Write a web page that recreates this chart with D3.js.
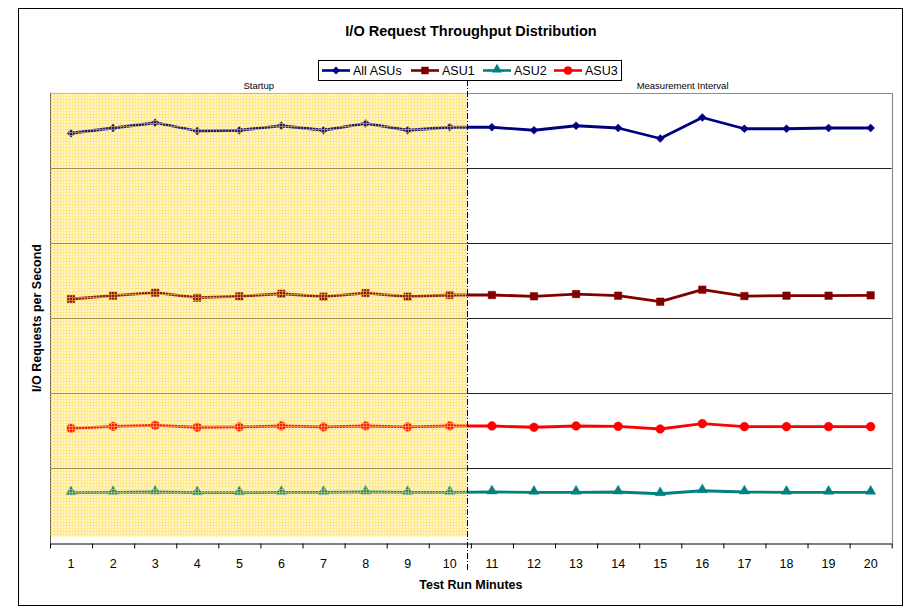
<!DOCTYPE html>
<html>
<head>
<meta charset="utf-8">
<script src="https://cdn.jsdelivr.net/npm/d3@7"></script>
<style>
  html, body { margin: 0; padding: 0; background: #fff; }
  svg { display: block; font-family: "Liberation Sans", Arial, sans-serif; }
</style>
</head>
<body>
<svg id="chart" width="905" height="608"></svg>
<script>
// Test run minutes (categories)
const minutes = [1,2,3,4,5,6,7,8,9,10,11,12,13,14,15,16,17,18,19,20];

// I/O requests per second, per series
const allAsus = [546,553,560,549,550,556,550,559,550,554,554,550,556,553,539,567,552,552,553,553];
const asu1    = [325.3,329.7,333.7,327.0,328.9,332.3,328.4,333.2,328.4,330.6,330.6,328.9,331.9,329.7,321.7,337.7,329.2,329.7,329.7,330.2];
const asu2    = [67.4,67.9,68.3,67.4,67.4,67.9,67.9,68.3,67.9,67.9,68.3,67.9,67.9,68.3,66.0,70.0,68.3,67.9,67.9,67.9];
const asu3    = [153.1,155.8,157.1,154.5,154.9,156.2,154.9,156.2,154.9,156.2,156.2,154.5,156.2,155.8,152.2,159.3,155.3,155.3,155.3,155.3];

const seriesNames = ["All ASUs", "ASU1", "ASU2", "ASU3"];
const yTicks = [100, 200, 300, 400, 500];
const phaseLabels = ["Startup", "Measurement Interval"];
const startupEnd = 10.42;   // end of the startup phase on the minute axis

const series = [
  { name: seriesNames[0], values: allAsus, color: "#000080", marker: "diamond" },
  { name: seriesNames[1], values: asu1,    color: "#800000", marker: "square" },
  { name: seriesNames[2], values: asu2,    color: "#008080", marker: "triangle" },
  { name: seriesNames[3], values: asu3,    color: "#FF0000", marker: "circle" }
];

const svg = d3.select("#chart");
const plot = { left: 50, right: 891.7, top: 92.7, bottom: 543.3 };

const x = d3.scaleLinear().domain([0.5, 20.5]).range([plot.left, plot.right]);
const y = d3.scaleLinear().domain([0, 600]).range([plot.bottom, plot.top]);

// outer frame
svg.append("rect").attr("x", 18.5).attr("y", 8.5).attr("width", 884).attr("height", 597)
  .attr("fill", "#fff").attr("stroke", "#000").attr("stroke-width", 1);

// fill pattern for the startup phase
const defs = svg.append("defs");
const pat = defs.append("pattern").attr("id", "startupGrid")
  .attr("patternUnits", "userSpaceOnUse").attr("width", 3).attr("height", 3);
pat.append("rect").attr("x", 0).attr("y", 0).attr("width", 3).attr("height", 1).attr("fill", "#FFDC50");
pat.append("rect").attr("x", 0).attr("y", 0).attr("width", 1).attr("height", 3).attr("fill", "#FFDC50");

const shadeX0 = x(0.5), shadeX1 = x(startupEnd);
const shadeY0 = y(600), shadeY1 = y(9);

// pale base of the startup phase
svg.append("rect").attr("x", shadeX0).attr("y", shadeY0)
  .attr("width", shadeX1 - shadeX0).attr("height", shadeY1 - shadeY0)
  .attr("fill", "#FFF8D6");

// horizontal gridlines
svg.append("g").selectAll("line").data(yTicks).join("line")
  .attr("x1", plot.left).attr("x2", plot.right)
  .attr("y1", d => Math.round(y(d)) + 0.5).attr("y2", d => Math.round(y(d)) + 0.5)
  .attr("stroke", "#222").attr("stroke-width", 1);

// plot border (top/right)
svg.append("path")
  .attr("d", `M${plot.left},${Math.round(plot.top)+0.5} H${Math.round(plot.right)+0.5} V${plot.bottom}`)
  .attr("fill", "none").attr("stroke", "#8c8c8c").attr("stroke-width", 1.2);
// left axis line
svg.append("line").attr("x1", Math.round(plot.left) + 0.5).attr("x2", Math.round(plot.left) + 0.5)
  .attr("y1", plot.top).attr("y2", plot.bottom).attr("stroke", "#555").attr("stroke-width", 1);

// series lines
const line = d3.line().x((d, i) => x(minutes[i])).y(d => y(d));
const markerPath = {
  diamond: d3.symbol().type(d3.symbolDiamond2 || d3.symbolDiamond).size(40)(),
  square: d3.symbol().type(d3.symbolSquare).size(56)(),
  triangle: d3.symbol().type(d3.symbolTriangle).size(44)(),
  circle: d3.symbol().type(d3.symbolCircle).size(60)()
};

const gSeries = svg.append("g");
series.forEach(s => {
  const g = gSeries.append("g");
  g.append("path").datum(s.values).attr("d", line)
    .attr("fill", "none").attr("stroke", s.color).attr("stroke-width", 2.8)
    .attr("stroke-linejoin", "round");
  g.selectAll("path.m").data(s.values).join("path").attr("class", "m")
    .attr("transform", (d, i) => `translate(${x(minutes[i])},${y(d) - (s.marker === "triangle" ? 1 : 0)})`)
    .attr("d", markerPath[s.marker])
    .attr("fill", s.color).attr("stroke", s.color).attr("stroke-width", 0.5);
});

// yellow grid laid over the startup phase
svg.append("rect").attr("x", shadeX0).attr("y", shadeY0)
  .attr("width", shadeX1 - shadeX0).attr("height", shadeY1 - shadeY0)
  .attr("fill", "url(#startupGrid)").attr("opacity", 0.55);
svg.append("rect").attr("x", shadeX0).attr("y", shadeY0)
  .attr("width", shadeX1 - shadeX0).attr("height", shadeY1 - shadeY0)
  .attr("fill", "#FFE680").attr("opacity", 0.1);

// phase divider
svg.append("line").attr("x1", Math.round(shadeX1) + 0.5).attr("x2", Math.round(shadeX1) + 0.5)
  .attr("y1", 80).attr("y2", 570)
  .attr("stroke", "#000").attr("stroke-width", 1).attr("stroke-dasharray", "6,2,1,2");

// phase labels
svg.append("text").attr("x", (x(0.5) + shadeX1) / 2).attr("y", 89)
  .attr("text-anchor", "middle").attr("font-size", 9.5).text(phaseLabels[0]);
svg.append("text").attr("x", (shadeX1 + x(20.5)) / 2 + 3).attr("y", 89)
  .attr("text-anchor", "middle").attr("font-size", 9.5).text(phaseLabels[1]);

// x axis
const boundaries = d3.range(0.5, 20.6, 1);
const xAxis = d3.axisBottom(x).tickValues(boundaries).tickFormat("").tickSize(5).tickSizeOuter(0);
const gx = svg.append("g").attr("transform", `translate(0,${Math.round(plot.bottom) + 0.5})`).call(xAxis);
gx.select(".domain").attr("stroke", "#000");
gx.selectAll(".tick line").attr("stroke", "#000");

svg.append("g").selectAll("text").data(minutes).join("text")
  .attr("x", d => x(d)).attr("y", 568)
  .attr("text-anchor", "middle").attr("font-size", 12.5).attr("fill", "#000")
  .text(d => d);

// axis titles
svg.append("text").attr("x", (plot.left + plot.right) / 2).attr("y", 589)
  .attr("text-anchor", "middle").attr("font-size", 12.5).attr("font-weight", "bold")
  .text("Test Run Minutes");
svg.append("text").attr("transform", `translate(41,${(plot.top + plot.bottom) / 2}) rotate(-90)`)
  .attr("text-anchor", "middle").attr("font-size", 12.5).attr("font-weight", "bold")
  .text("I/O Requests per Second");

// chart title
svg.append("text").attr("x", 471).attr("y", 36)
  .attr("text-anchor", "middle").attr("font-size", 14.5).attr("font-weight", "bold")
  .text("I/O Request Throughput Distribution");

// legend
const legend = svg.append("g");
legend.append("rect").attr("x", 318.5).attr("y", 60.5).attr("width", 303).attr("height", 20)
  .attr("fill", "#fff").attr("stroke", "#000").attr("stroke-width", 1);
const legendX = [322, 411, 483, 554];
series.forEach((s, i) => {
  const lx = legendX[i];
  legend.append("line").attr("x1", lx).attr("x2", lx + 28).attr("y1", 70.5).attr("y2", 70.5)
    .attr("stroke", s.color).attr("stroke-width", 2.6);
  legend.append("path").attr("transform", `translate(${lx + 14},${70.5 - (s.marker === "triangle" ? 1 : 0)})`)
    .attr("d", markerPath[s.marker]).attr("fill", s.color);
  legend.append("text").attr("x", lx + 31).attr("y", 75).attr("font-size", 12.5).text(s.name);
});
</script>
</body>
</html>
